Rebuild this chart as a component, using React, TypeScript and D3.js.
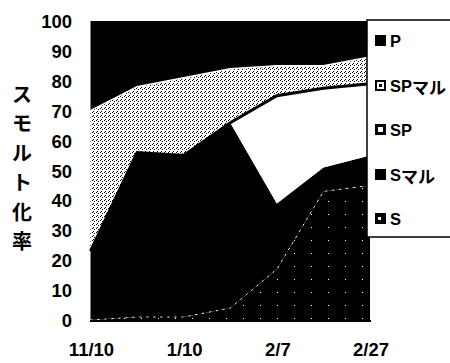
import { useEffect, useRef } from 'react';
import * as d3 from 'd3';

// x categories (only every other date is labelled on the axis)
const dateLabels = ['11/10', '', '1/10', '', '2/7', '', '2/27'];

// series values (%), stacked bottom -> top: S, Sマル, SP, SPマル, P
const seriesS = [0, 1, 1, 4, 17, 43, 45];
const seriesSMaru = [23, 55, 54, 62, 22, 8, 10];
const seriesSP = [0, 0, 0, 0, 36, 26.5, 24];
const seriesSPMaru = [47, 22, 26, 18, 10, 7.5, 9];
const seriesP = [30, 22, 19, 16, 15, 15, 12];

const yTicks = [0, 10, 20, 30, 40, 50, 60, 70, 80, 90, 100];
const seriesKeys = ['S', 'Sマル', 'SP', 'SPマル', 'P'];
const legendOrder = ['P', 'SPマル', 'SP', 'Sマル', 'S'];
const yTitle = 'スモルト化率';

const W = 450;
const H = 363;
const latin = "'Liberation Sans', Arial, 'Noto Sans CJK JP', sans-serif";
const cjk = "'Noto Sans CJK JP', 'Liberation Sans', sans-serif";

export default function App() {
  const svgRef = useRef<SVGSVGElement>(null);

  useEffect(() => {
    if (!svgRef.current) return;
    const svg = d3.select(svgRef.current);
    svg.selectAll('*').remove();

    const rows = dateLabels.map((_, i) => ({
      i,
      S: seriesS[i],
      'Sマル': seriesSMaru[i],
      SP: seriesSP[i],
      'SPマル': seriesSPMaru[i],
      P: seriesP[i],
    }));

    const x = d3
      .scalePoint<number>()
      .domain(rows.map((r) => r.i))
      .range([90.5, 370]);
    const y = d3.scaleLinear().domain([0, 100]).range([320, 21]);

    const layers = d3.stack<any>().keys(seriesKeys)(rows);

    // --- patterns ---
    const defs = svg.append('defs');
    const stip = defs
      .append('pattern')
      .attr('id', 'stipple')
      .attr('patternUnits', 'userSpaceOnUse')
      .attr('width', 4)
      .attr('height', 4);
    stip.append('rect').attr('width', 4).attr('height', 4).attr('fill', '#fff');
    [
      [0, 0],
      [2, 1],
      [1, 3],
    ].forEach(([px, py]) =>
      stip.append('rect').attr('x', px).attr('y', py).attr('width', 1).attr('height', 1).attr('fill', '#000'),
    );

    const speck = defs
      .append('pattern')
      .attr('id', 'speck')
      .attr('patternUnits', 'userSpaceOnUse')
      .attr('width', 17)
      .attr('height', 13);
    speck.append('rect').attr('width', 17).attr('height', 13).attr('fill', '#000');
    [[5, 6]].forEach(([px, py]) =>
      speck.append('rect').attr('x', px).attr('y', py).attr('width', 1).attr('height', 1).attr('fill', '#fff'),
    );

    const fills: Record<string, string> = {
      S: 'url(#speck)',
      'Sマル': '#000',
      SP: '#fff',
      'SPマル': 'url(#stipple)',
      P: '#000',
    };

    // --- areas ---
    const area = d3
      .area<any>()
      .x((d) => x(d.data.i) as number)
      .y0((d) => y(d[0]))
      .y1((d) => y(d[1]));

    svg
      .append('g')
      .selectAll('path')
      .data(layers)
      .join('path')
      .attr('d', area)
      .attr('fill', (d) => fills[d.key]);

    const topLine = d3
      .line<any>()
      .x((d) => x(d.data.i) as number)
      .y((d) => y(d[1]));

    const byKey = (k: string) => layers.find((l) => l.key === k)!;

    // SP upper edge: heavy black border
    svg
      .append('path')
      .attr('d', topLine(byKey('SP')))
      .attr('fill', 'none')
      .attr('stroke', '#000')
      .attr('stroke-width', 3);

    // SPマル upper edge: white rim
    svg
      .append('path')
      .attr('d', topLine(byKey('SPマル')))
      .attr('fill', 'none')
      .attr('stroke', '#fff')
      .attr('stroke-width', 1.5);

    // S upper edge: broken white line
    svg
      .append('path')
      .attr('d', topLine(byKey('S')))
      .attr('fill', 'none')
      .attr('stroke', '#fff')
      .attr('stroke-width', 1)
      .attr('stroke-dasharray', '2,5');

    // bottom axis line
    svg
      .append('line')
      .attr('x1', 90)
      .attr('x2', 371)
      .attr('y1', 321)
      .attr('y2', 321)
      .attr('stroke', '#000')
      .attr('stroke-width', 2);

    // --- y tick labels ---
    svg
      .append('g')
      .selectAll('text')
      .data(yTicks)
      .join('text')
      .attr('x', 72)
      .attr('y', (d) => y(d) + 0.5)
      .attr('text-anchor', 'end')
      .attr('dominant-baseline', 'central')
      .attr('font-family', latin)
      .attr('font-weight', 'bold')
      .attr('font-size', '18.5px')
      .attr('fill', '#000')
      .text((d) => d);

    // --- x tick labels ---
    svg
      .append('g')
      .selectAll('text')
      .data(rows.filter((r) => dateLabels[r.i] !== ''))
      .join('text')
      .attr('x', (d) => (x(d.i) as number) + 1)
      .attr('y', 349)
      .attr('text-anchor', 'middle')
      .attr('dominant-baseline', 'central')
      .attr('font-family', latin)
      .attr('font-weight', 'bold')
      .attr('font-size', '18.5px')
      .attr('fill', '#000')
      .text((d) => dateLabels[d.i]);

    // --- y title (vertical) ---
    const title = svg
      .append('text')
      .attr('font-family', cjk)
      .attr('font-weight', 'bold')
      .attr('font-size', '20px')
      .attr('text-anchor', 'middle')
      .attr('dominant-baseline', 'central')
      .attr('fill', '#000');
    Array.from(yTitle).forEach((ch, i) => {
      title
        .append('tspan')
        .attr('x', 22)
        .attr('y', 93 + i * 29.4)
        .text(ch);
    });

    // --- legend ---
    const lg = svg.append('g');
    lg.append('rect')
      .attr('x', 367)
      .attr('y', 20)
      .attr('width', 95)
      .attr('height', 217)
      .attr('fill', '#fff')
      .attr('stroke', '#000')
      .attr('stroke-width', 1.5);

    legendOrder.forEach((name, i) => {
      const cy = Math.round(40 + i * 44.5);
      const sx = 375;
      const s = 11;
      const item = lg.append('g').attr('shape-rendering', 'crispEdges');
      item
        .append('rect')
        .attr('x', sx)
        .attr('y', cy - 5)
        .attr('width', s)
        .attr('height', s)
        .attr('fill', '#000');
      if (name === 'SPマル') {
        item.append('rect').attr('x', sx + 2).attr('y', cy - 3).attr('width', 7).attr('height', 7).attr('fill', '#fff');
        item.append('rect').attr('x', sx + 4).attr('y', cy - 1).attr('width', 3).attr('height', 3).attr('fill', '#000');
      } else if (name === 'SP') {
        item.append('rect').attr('x', sx + 3).attr('y', cy - 2).attr('width', 5).attr('height', 5).attr('fill', '#fff');
      } else if (name === 'S') {
        item.append('rect').attr('x', sx + 3).attr('y', cy - 1).attr('width', 3).attr('height', 3).attr('fill', '#fff');
      }
      const label = item
        .append('text')
        .attr('x', sx + s + 4)
        .attr('y', cy + 0.5)
        .attr('dominant-baseline', 'central')
        .attr('font-weight', 'bold')
        .attr('fill', '#000');
      // latin part and katakana part share a line; katakana drawn in a CJK gothic
      const latinPart = name.replace('マル', '');
      label.append('tspan').attr('font-family', latin).attr('font-size', '16.5px').text(latinPart);
      if (name.includes('マル')) {
        label.append('tspan').attr('font-family', cjk).attr('font-size', '17px').text('マル');
      }
    });
  }, []);

  return (
    <svg
      ref={svgRef}
      width={W}
      height={H}
      style={{ position: 'absolute', left: 0, top: 0, background: '#fff', display: 'block' }}
    />
  );
}
